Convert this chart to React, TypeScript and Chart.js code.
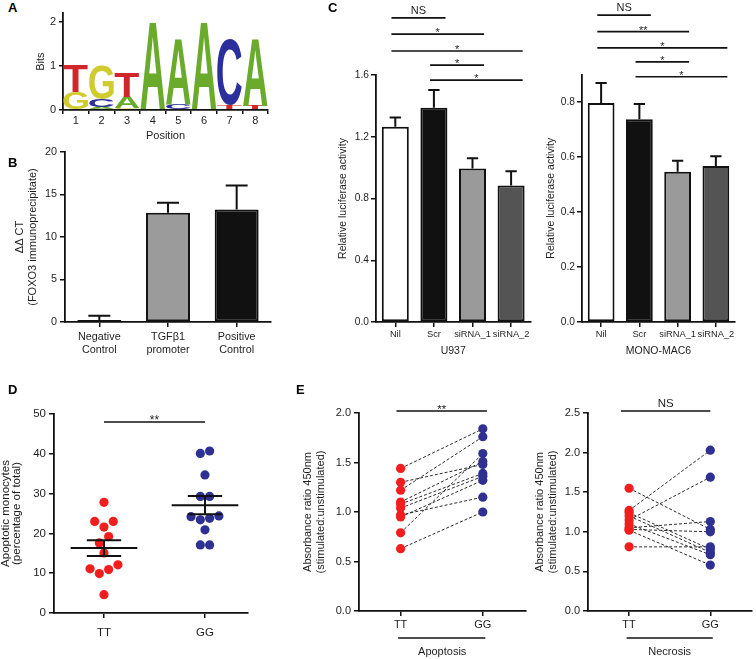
import React, { useEffect, useRef } from 'react';
import { Chart, registerables } from 'chart.js';
Chart.register(...registerables);

const FONT = '"Liberation Sans", Arial, Helvetica, sans-serif';
const INK = '#111111';
const TXT = '#1e1e1e';
const RED = '#f21d1d';
const BLUE = '#2e3192';

// ---------------- Panel A: sequence logo ----------------
const logoPositions = ['1', '2', '3', '4', '5', '6', '7', '8'];
const logoLettersBottom = ['G', 'A', 'G', 'A', 'C', 'A', 'T', 'T'];
const logoBitsBottom = [0.40, 0.07, 0.05, 2.0, 0.12, 2.0, 0.11, 0.10];
const logoLettersMiddle = ['T', 'C', 'A', '', 'A', '', 'C', 'A'];
const logoBitsMiddle = [0.63, 0.17, 0.25, 0, 1.50, 0, 1.50, 1.52];
const logoLettersTop = ['', 'G', 'T', '', '', '', '', ''];
const logoBitsTop = [0, 0.78, 0.56, 0, 0, 0, 0, 0];
const letterColors: Record<string, string> = { A: '#6aab2c', C: '#2b2f9b', G: '#d0cb2e', T: '#d1262a' };

// ---------------- Panel B: ChIP ----------------
const chipLabels = [['Negative', 'Control'], ['TGFβ1', 'promoter'], ['Positive', 'Control']];
const chipValues = [0.25, 12.86, 13.25];
const chipErrors = [0.5, 1.18, 2.8];
const chipColors = ['#ffffff', '#9b9b9b', '#111111'];

// ---------------- Panel C: luciferase ----------------
const lucLabels = ['Nil', 'Scr', 'siRNA_1', 'siRNA_2'];
const lucColors = ['#ffffff', '#111111', '#9a9a9a', '#545454'];
const u937Values = [1.265, 1.388, 0.995, 0.884];
const u937Errors = [0.06, 0.115, 0.065, 0.093];
const monoValues = [0.796, 0.737, 0.546, 0.567];
const monoErrors = [0.073, 0.056, 0.040, 0.036];
const lucComparisons = [[0, 1], [0, 2], [0, 3], [1, 2], [1, 3]];
const u937Levels = [1.97, 1.865, 1.755, 1.664, 1.567];
const u937Marks = ['NS', '*', '*', '*', '*'];
const monoLevels = [1.116, 1.056, 0.997, 0.946, 0.892];
const monoMarks = ['NS', '**', '*', '*', '*'];

// ---------------- Panel D: apoptotic monocytes ----------------
const genotypes = ['TT', 'GG'];
const apoptoticTT = [27.8, 23.0, 23.0, 21.6, 19.2, 17.6, 15.1, 12.1, 11.1, 10.9, 9.9, 4.6];
const apoptoticGG = [40.7, 40.1, 34.7, 29.3, 29.3, 24.4, 24.2, 23.8, 23.4, 20.9, 17.1, 17.1];

// ---------------- Panel E: paired absorbance ratios ----------------
const apoptosisTT = [1.44, 1.30, 1.22, 1.10, 1.08, 1.04, 0.97, 0.95, 0.79, 0.63];
const apoptosisGG = [1.84, 1.48, 1.76, 1.51, 1.39, 1.36, 1.15, 1.32, 1.59, 1.00];
const necrosisTT = [1.55, 1.27, 1.24, 1.20, 1.15, 1.10, 1.05, 1.03, 1.02, 0.81];
const necrosisGG = [1.03, 2.03, 0.78, 0.74, 1.69, 0.71, 1.13, 1.00, 0.58, 0.81];

Chart.defaults.font.family = FONT;
Chart.defaults.color = TXT;

// narrow face for crowded category labels, if installed
function pickNarrow(): { family: string; size: number } {
  try {
    const c = document.createElement('canvas').getContext('2d') as CanvasRenderingContext2D;
    c.font = '20px "Liberation Sans Narrow", monospace';
    const a = c.measureText('siRNA_1 abc').width;
    c.font = '20px monospace';
    const b = c.measureText('siRNA_1 abc').width;
    if (Math.abs(a - b) > 0.5) return { family: '"Liberation Sans Narrow", ' + FONT, size: 10.5 };
  } catch (e) { /* ignore */ }
  return { family: FONT, size: 9.3 };
}
const narrowFont = pickNarrow();

type Box = { x: number; y: number; w: number; h: number };
type Area = { left: number; top: number; right: number; bottom: number };

function geometry(box: Box, area: Area) {
  return {
    padding: { left: 0, top: area.top - box.y, right: box.x + box.w - area.right, bottom: 0 },
    yWidth: area.left - box.x,
    xHeight: box.y + box.h - area.bottom,
  };
}

const fnt = (size: number, lineHeight = 1.2) => ({ family: FONT, size, lineHeight });
const border = { display: true, color: INK, width: 1.8 };
const tickGrid = (len = 5, offset?: boolean) => {
  const g: any = { display: true, drawOnChartArea: false, drawTicks: true, tickLength: len, color: INK, lineWidth: 1.5 };
  if (offset !== undefined) g.offset = offset;
  return g;
};
const yTitle = (text: string | string[], pad: number, size = 10.5, lh = 1.24) => ({
  display: true, text, color: TXT, font: fnt(size, lh), padding: { top: pad, bottom: 0 },
});
const xTitle = (text: string, pad: number, size = 10.5) => ({
  display: true, text, color: TXT, font: fnt(size, 1.2), padding: { top: 0, bottom: pad },
});

function drawLetter(ctx: CanvasRenderingContext2D, ch: string, x: number, y: number, w: number, h: number, color: string) {
  ctx.save();
  ctx.font = `bold 100px ${FONT}`;
  ctx.textAlign = 'left';
  ctx.textBaseline = 'alphabetic';
  const m = ctx.measureText(ch);
  const gw = m.actualBoundingBoxLeft + m.actualBoundingBoxRight;
  const gh = m.actualBoundingBoxAscent + m.actualBoundingBoxDescent;
  ctx.translate(x, y);
  ctx.scale(w / gw, h / gh);
  ctx.fillStyle = color;
  ctx.fillText(ch, m.actualBoundingBoxLeft, m.actualBoundingBoxAscent);
  ctx.restore();
}

const logoPlugin = {
  id: 'logoLetters',
  afterDatasetsDraw(chart: any) {
    const layers = [logoLettersBottom, logoLettersMiddle, logoLettersTop];
    layers.forEach((letters, d) => {
      const meta = chart.getDatasetMeta(d);
      meta.data.forEach((el: any, i: number) => {
        const ch = letters[i];
        if (!ch) return;
        const { x, y, base, width } = el.getProps(['x', 'y', 'base', 'width'], true);
        const top = Math.min(y, base);
        const h = Math.abs(base - y);
        if (h < 0.5) return;
        drawLetter(chart.ctx, ch, x - width / 2, top, width, h, letterColors[ch]);
      });
    });
  },
};

function errorBarPlugin(errors: number[], capFrac: number) {
  return {
    id: 'errorBars',
    afterDatasetsDraw(chart: any) {
      const ctx = chart.ctx;
      const ys = chart.scales.y;
      const meta = chart.getDatasetMeta(0);
      const vals = chart.data.datasets[0].data;
      ctx.save();
      ctx.strokeStyle = INK;
      ctx.lineWidth = 2;
      meta.data.forEach((bar: any, i: number) => {
        const top = ys.getPixelForValue(vals[i] + errors[i]);
        const half = (bar.width * capFrac) / 2;
        ctx.beginPath();
        ctx.moveTo(bar.x, bar.y);
        ctx.lineTo(bar.x, top);
        ctx.moveTo(bar.x - half, top);
        ctx.lineTo(bar.x + half, top);
        ctx.stroke();
      });
      ctx.restore();
    },
  };
}

type Bracket = { from: number; to: number; value: number; label: string };
function sigPlugin(brackets: Bracket[], size = 11) {
  return {
    id: 'sigBrackets',
    afterDraw(chart: any) {
      const { ctx } = chart;
      const xs = chart.scales.x;
      const ys = chart.scales.y;
      ctx.save();
      ctx.strokeStyle = INK;
      ctx.lineWidth = 1.6;
      ctx.fillStyle = TXT;
      ctx.font = `${size}px ${FONT}`;
      ctx.textAlign = 'center';
      ctx.textBaseline = 'alphabetic';
      brackets.forEach((b) => {
        const x1 = xs.getPixelForValue(b.from);
        const x2 = xs.getPixelForValue(b.to);
        const py = ys.getPixelForValue(b.value);
        ctx.beginPath();
        ctx.moveTo(x1, py);
        ctx.lineTo(x2, py);
        ctx.stroke();
        const isStar = b.label.indexOf('*') >= 0;
        ctx.fillText(b.label, (x1 + x2) / 2, isStar ? py + 2 : py - 4);
      });
      ctx.restore();
    },
  };
}

function underlinePlugin(drop: number) {
  return {
    id: 'groupUnderline',
    afterDraw(chart: any) {
      const { ctx, chartArea } = chart;
      const xs = chart.scales.x;
      const y = chartArea.bottom + drop;
      ctx.save();
      ctx.strokeStyle = INK;
      ctx.lineWidth = 1.4;
      ctx.beginPath();
      ctx.moveTo(xs.getPixelForValue(-0.03), y);
      ctx.lineTo(xs.getPixelForValue(genotypes.length - 1 + 0.03), y);
      ctx.stroke();
      ctx.restore();
    },
  };
}

function swarmOffsets(values: number[], rowSpan: number, step: number) {
  const order = values.map((_, i) => i).sort((a, b) => values[b] - values[a]);
  const offsets = new Array(values.length).fill(0);
  let i = 0;
  while (i < order.length) {
    const start = values[order[i]];
    const row: number[] = [];
    while (i < order.length && start - values[order[i]] <= rowSpan) {
      row.push(order[i]);
      i++;
    }
    row.sort((a, b) => values[a] - values[b]);
    const n = row.length;
    const slots: number[] = [];
    if (n % 2 === 1) {
      slots.push(0);
      for (let k = 1; slots.length < n; k++) {
        slots.push(-k);
        if (slots.length < n) slots.push(k);
      }
    } else {
      for (let k = 0; slots.length < n; k++) {
        slots.push(-(k + 0.5));
        slots.push(k + 0.5);
      }
    }
    row.forEach((r, j) => (offsets[r] = slots[j] * step));
  }
  return offsets;
}

function meanSem(v: number[]) {
  const n = v.length;
  const m = v.reduce((a, b) => a + b, 0) / n;
  const sd = Math.sqrt(v.reduce((a, b) => a + (b - m) ** 2, 0) / (n - 1));
  return { m, sem: sd / Math.sqrt(n) };
}

const segment = (x1: number, y1: number, x2: number, y2: number, extra: any = {}) => ({
  type: 'line',
  data: [{ x: x1, y: y1 }, { x: x2, y: y2 }],
  showLine: true,
  pointRadius: 0,
  borderColor: INK,
  borderWidth: 2,
  fill: false,
  ...extra,
});

// --------- chart builders ---------
const boxA: Box = { x: 34, y: 0, w: 240, h: 146 };
const areaA: Area = { left: 63, top: 13.2, right: 268, bottom: 110 };
function buildA() {
  const g = geometry(boxA, areaA);
  const layers = [logoBitsBottom, logoBitsMiddle, logoBitsTop];
  return {
    type: 'bar',
    data: {
      labels: logoPositions,
      datasets: layers.map((bits) => ({
        data: bits,
        backgroundColor: 'rgba(0,0,0,0)',
        borderWidth: 0,
        barPercentage: 0.96,
        categoryPercentage: 1,
      })),
    },
    options: {
      animation: false, responsive: false, maintainAspectRatio: false,
      layout: { padding: g.padding },
      plugins: { legend: { display: false }, tooltip: { enabled: false } },
      scales: {
        x: {
          stacked: true, border, grid: tickGrid(4, true),
          ticks: { font: fnt(11), color: TXT, padding: 0, maxRotation: 0 },
          title: xTitle('Position', 3, 11),
          afterFit: (s: any) => { s.height = g.xHeight; },
        },
        y: {
          stacked: true, min: 0, max: 2.2, border, grid: tickGrid(4),
          ticks: { font: fnt(11), color: TXT, stepSize: 1, includeBounds: false, padding: 3 },
          title: yTitle('Bits', 0, 11, 1.2),
          afterFit: (s: any) => { s.width = g.yWidth; },
        },
      },
    },
    plugins: [logoPlugin],
  };
}

const boxB: Box = { x: 8, y: 140, w: 272, h: 228 };
const areaB: Area = { left: 65, top: 152, right: 271, bottom: 322 };
function buildB() {
  const g = geometry(boxB, areaB);
  return {
    type: 'bar',
    data: {
      labels: chipLabels,
      datasets: [{
        data: chipValues, backgroundColor: chipColors, borderColor: INK, borderWidth: 2,
        borderSkipped: false, barPercentage: 0.8, categoryPercentage: 0.8,
      }],
    },
    options: {
      animation: false, responsive: false, maintainAspectRatio: false,
      layout: { padding: g.padding },
      plugins: { legend: { display: false }, tooltip: { enabled: false } },
      scales: {
        x: {
          border, grid: tickGrid(5, false),
          ticks: { font: fnt(10.8, 1.22), color: TXT, padding: 3, maxRotation: 0 },
          afterFit: (s: any) => { s.height = g.xHeight; },
        },
        y: {
          min: 0, max: 20, border, grid: tickGrid(5),
          ticks: { font: fnt(10.8), color: TXT, stepSize: 5, padding: 3 },
          title: yTitle(['ΔΔ CT', '(FOXO3 immunoprecipitate)'], 5, 11, 1.2),
          afterFit: (s: any) => { s.width = g.yWidth; },
        },
      },
    },
    plugins: [errorBarPlugin(chipErrors, 0.5)],
  };
}

function buildLuc(box: Box, area: Area, values: number[], errors: number[], yMax: number, step: number,
  levels: number[], marks: string[], cell: string) {
  const g = geometry(box, area);
  const brackets: Bracket[] = lucComparisons.map(([a, b], k) => ({
    from: a - 0.1, to: b + 0.3, value: levels[k], label: marks[k],
  }));
  return {
    type: 'bar',
    data: {
      labels: lucLabels,
      datasets: [{
        data: values, backgroundColor: lucColors, borderColor: INK, borderWidth: 2,
        borderSkipped: false, barPercentage: 0.875, categoryPercentage: 0.8,
      }],
    },
    options: {
      animation: false, responsive: false, maintainAspectRatio: false,
      layout: { padding: g.padding },
      plugins: { legend: { display: false }, tooltip: { enabled: false } },
      scales: {
        x: {
          border, grid: tickGrid(5, false),
          ticks: { font: { family: narrowFont.family, size: narrowFont.size }, color: TXT, padding: 1.5, maxRotation: 0, autoSkip: false },
          title: xTitle(cell, 6.5),
          afterFit: (s: any) => { s.height = g.xHeight; },
        },
        y: {
          min: 0, max: yMax, border, grid: tickGrid(5),
          ticks: { font: fnt(10.2), color: TXT, stepSize: step, includeBounds: false, padding: 2,
            callback: (v: any) => Number(v).toFixed(1) },
          title: yTitle('Relative luciferase activity', 3.7, 10.5),
          afterFit: (s: any) => { s.width = g.yWidth; },
        },
      },
    },
    plugins: [errorBarPlugin(errors, 0.42), sigPlugin(brackets)],
  };
}

const boxC1: Box = { x: 333, y: 0, w: 204, h: 364 };
const areaC1: Area = { left: 376, top: 75, right: 530.4, bottom: 322 };
const boxC2: Box = { x: 541, y: 0, w: 215, h: 364 };
const areaC2: Area = { left: 582, top: 74.5, right: 735, bottom: 322 };

const boxD: Box = { x: 0, y: 395, w: 255, h: 264 };
const areaD: Area = { left: 54, top: 414, right: 248, bottom: 613 };
function buildD() {
  const g = geometry(boxD, areaD);
  const groups = [apoptoticTT, apoptoticGG];
  const colors = [RED, BLUE];
  const lines: any[] = [];
  groups.forEach((vals, gi) => {
    const { m, sem } = meanSem(vals);
    lines.push(segment(gi - 0.33, m, gi + 0.33, m));
    lines.push(segment(gi - 0.17, m + sem, gi + 0.17, m + sem));
    lines.push(segment(gi - 0.17, m - sem, gi + 0.17, m - sem));
    lines.push(segment(gi, m - sem, gi, m + sem));
  });
  const points = groups.map((vals, gi) => {
    const off = swarmOffsets(vals, 2.5, 0.092);
    return {
      data: vals.map((v, i) => ({ x: gi + off[i], y: v })),
      backgroundColor: colors[gi], borderWidth: 0, pointRadius: 4.6, showLine: false,
    };
  });
  return {
    type: 'scatter',
    data: { datasets: [...lines, ...points] },
    options: {
      animation: false, responsive: false, maintainAspectRatio: false,
      layout: { padding: g.padding },
      plugins: { legend: { display: false }, tooltip: { enabled: false } },
      scales: {
        x: {
          type: 'linear', min: -0.495, max: 1.426, border, grid: tickGrid(5),
          afterBuildTicks: (s: any) => { s.ticks = genotypes.map((_, i) => ({ value: i })); },
          ticks: { font: fnt(11.5), color: TXT, padding: 8, callback: (v: any) => genotypes[v] ?? '' },
          afterFit: (s: any) => { s.height = g.xHeight; },
        },
        y: {
          min: 0, max: 50, border, grid: tickGrid(5),
          ticks: { font: fnt(11.5), color: TXT, stepSize: 10, padding: 3 },
          title: yTitle(['Apoptotic monocytes', '(percentage of total)'], 0, 11.5, 1.0),
          afterFit: (s: any) => { s.width = g.yWidth; },
        },
      },
    },
    plugins: [sigPlugin([{ from: 0, to: 1, value: 48.0, label: '**' }], 12)],
  };
}

function buildE(box: Box, area: Area, tt: number[], gg: number[], yMax: number, xMin: number, xMax: number,
  group: string, bracket: Bracket) {
  const g = geometry(box, area);
  const pairs = tt.map((v, i) => segment(0, v, 1, gg[i], { borderWidth: 1, borderColor: '#2a2a2a', borderDash: [3, 2] }));
  const points = [tt, gg].map((vals, gi) => ({
    data: vals.map((v) => ({ x: gi, y: v })),
    backgroundColor: gi === 0 ? RED : BLUE, borderWidth: 0, pointRadius: 4.6, showLine: false,
  }));
  return {
    type: 'scatter',
    data: { datasets: [...points, ...pairs] },
    options: {
      animation: false, responsive: false, maintainAspectRatio: false,
      layout: { padding: g.padding },
      plugins: { legend: { display: false }, tooltip: { enabled: false } },
      scales: {
        x: {
          type: 'linear', min: xMin, max: xMax, border, grid: tickGrid(5),
          afterBuildTicks: (s: any) => { s.ticks = genotypes.map((_, i) => ({ value: i })); },
          ticks: { font: fnt(11), color: TXT, padding: 2.5, callback: (v: any) => genotypes[v] ?? '' },
          title: xTitle(group, 0, 11),
          afterFit: (s: any) => { s.height = g.xHeight; },
        },
        y: {
          min: 0, max: yMax, border, grid: tickGrid(5),
          ticks: { font: fnt(11), color: TXT, stepSize: 0.5, padding: 3, callback: (v: any) => Number(v).toFixed(1) },
          title: yTitle(['Absorbance ratio 450nm', '(stimulated:unstimulated)'], 3, 11, 1.2),
          afterFit: (s: any) => { s.width = g.yWidth; },
        },
      },
    },
    plugins: [sigPlugin([bracket], 11.5), underlinePlugin(27)],
  };
}

const boxE1: Box = { x: 298, y: 395, w: 232, h: 264 };
const areaE1: Area = { left: 359, top: 413, right: 527, bottom: 611 };
const boxE2: Box = { x: 530, y: 395, w: 226, h: 264 };
const areaE2: Area = { left: 588, top: 413, right: 755, bottom: 611 };

function ChartCanvas({ box, build }: { box: Box; build: () => any }) {
  const ref = useRef<HTMLCanvasElement | null>(null);
  useEffect(() => {
    const chart = new Chart(ref.current as HTMLCanvasElement, build());
    return () => chart.destroy();
  }, []);
  return (
    <canvas
      ref={ref}
      width={box.w}
      height={box.h}
      style={{ position: 'absolute', left: box.x, top: box.y, width: box.w, height: box.h }}
    />
  );
}

function PanelLetter({ text, x, y }: { text: string; x: number; y: number }) {
  return (
    <div style={{ position: 'absolute', left: x, top: y, font: `bold 13px ${FONT}`, lineHeight: '14px', color: '#000' }}>
      {text}
    </div>
  );
}

export default function App() {
  return (
    <div style={{ position: 'absolute', left: 0, top: 0, width: 756, height: 659, background: '#fff', overflow: 'hidden' }}>
      <ChartCanvas box={boxA} build={buildA} />
      <ChartCanvas box={boxB} build={buildB} />
      <ChartCanvas box={boxC1} build={() => buildLuc(boxC1, areaC1, u937Values, u937Errors, 1.6, 0.4, u937Levels, u937Marks, 'U937')} />
      <ChartCanvas box={boxC2} build={() => buildLuc(boxC2, areaC2, monoValues, monoErrors, 0.9, 0.2, monoLevels, monoMarks, 'MONO-MAC6')} />
      <ChartCanvas box={boxD} build={buildD} />
      <ChartCanvas box={boxE1} build={() => buildE(boxE1, areaE1, apoptosisTT, apoptosisGG, 2.0, -0.506, 1.518, 'Apoptosis',
        { from: -0.05, to: 1.05, value: 2.02, label: '**' })} />
      <ChartCanvas box={boxE2} build={() => buildE(boxE2, areaE2, necrosisTT, necrosisGG, 2.5, -0.506, 1.506, 'Necrosis',
        { from: -0.1, to: 1.0, value: 2.525, label: 'NS' })} />
      <PanelLetter text="A" x={8} y={1} />
      <PanelLetter text="B" x={8} y={156} />
      <PanelLetter text="C" x={328} y={1} />
      <PanelLetter text="D" x={8} y={383} />
      <PanelLetter text="E" x={296} y={383} />
    </div>
  );
}
